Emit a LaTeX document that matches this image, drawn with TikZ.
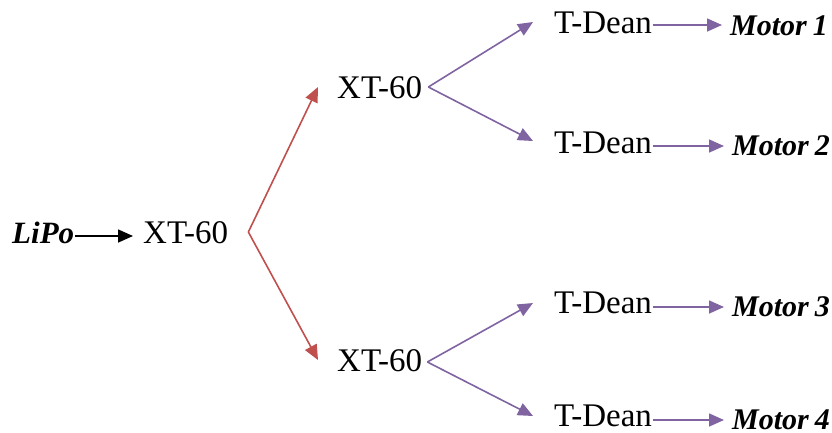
\documentclass[tikz,border=0pt]{standalone}
\usepackage{fontspec}
\setmainfont{Liberation Serif}
\usetikzlibrary{arrows.meta}
\definecolor{offred}{HTML}{C0504D}
\definecolor{offpurple}{HTML}{8064A2}
\begin{document}
\begin{tikzpicture}[x=1pt,y=1pt,
  lbl/.style={inner sep=0pt,anchor=base west,font=\fontsize{33}{38}\selectfont},
  blbl/.style={lbl,font=\fontsize{31}{36}\selectfont\bfseries\itshape},
  mlbl/.style={lbl,font=\fontsize{30}{36}\selectfont\bfseries\itshape},
  tip/.style={-{Triangle[length=15pt,width=13pt]}},
  blackarrow/.style={tip,line width=1.6pt,black},
  redline/.style={tip,line width=1.6pt,offred},
  purpleline/.style={tip,line width=1.6pt,offpurple}]
\useasboundingbox (0,0) rectangle (832,-432);
\node[blbl] (lipo) at (12,-243) {LiPo};
\node[lbl] (xt1) at (143,-243) {XT-60};
\node[lbl] (xt2) at (337,-98) {XT-60};
\node[lbl] (xt3) at (337,-371) {XT-60};
\node[lbl] (td1) at (554,-33) {T-Dean};
\node[lbl] (td2) at (554,-153) {T-Dean};
\node[lbl] (td3) at (554,-313) {T-Dean};
\node[lbl] (td4) at (554,-426) {T-Dean};
\node[mlbl] (m1) at (730,-35) {Motor\hspace{6pt}1};
\node[mlbl] (m2) at (732,-155) {Motor\hspace{6pt}2};
\node[mlbl] (m3) at (732,-316) {Motor\hspace{6pt}3};
\node[mlbl] (m4) at (732,-429) {Motor\hspace{6pt}4};
% LiPo -> XT-60
\coordinate (a0) at ([shift={(1pt,7pt)}]lipo.base east);
\draw[blackarrow,shorten >=10pt] (a0) -- (a0 -| xt1.west);
% red fork
\coordinate (v1) at ([shift={(20pt,11pt)}]xt1.base east);
\draw[redline] (v1) -- ([shift={(-19pt,11pt)}]xt2.base west);
\draw[redline] (v1) -- ([shift={(-19pt,11pt)}]xt3.base west);
% purple forks
\coordinate (v2) at ([shift={(6pt,11pt)}]xt2.base east);
\draw[purpleline] (v2) -- ([shift={(-21pt,11pt)}]td1.base west);
\draw[purpleline] (v2) -- ([shift={(-21pt,12pt)}]td2.base west);
\coordinate (v3) at ([shift={(5pt,9pt)}]xt3.base east);
\draw[purpleline] (v3) -- ([shift={(-21pt,10pt)}]td3.base west);
\draw[purpleline] (v3) -- ([shift={(-21pt,10pt)}]td4.base west);
% T-Dean -> Motor
\coordinate (a1) at ([shift={(1pt,8pt)}]td1.base east);
\coordinate (a2) at ([shift={(1pt,7pt)}]td2.base east);
\coordinate (a3) at ([shift={(1pt,6pt)}]td3.base east);
\coordinate (a4) at ([shift={(1pt,6pt)}]td4.base east);
\draw[purpleline,shorten >=8pt] (a1) -- (a1 -| m1.west);
\draw[purpleline,shorten >=8pt] (a2) -- (a2 -| m2.west);
\draw[purpleline,shorten >=8pt] (a3) -- (a3 -| m3.west);
\draw[purpleline,shorten >=8pt] (a4) -- (a4 -| m4.west);
\end{tikzpicture}
\end{document}
